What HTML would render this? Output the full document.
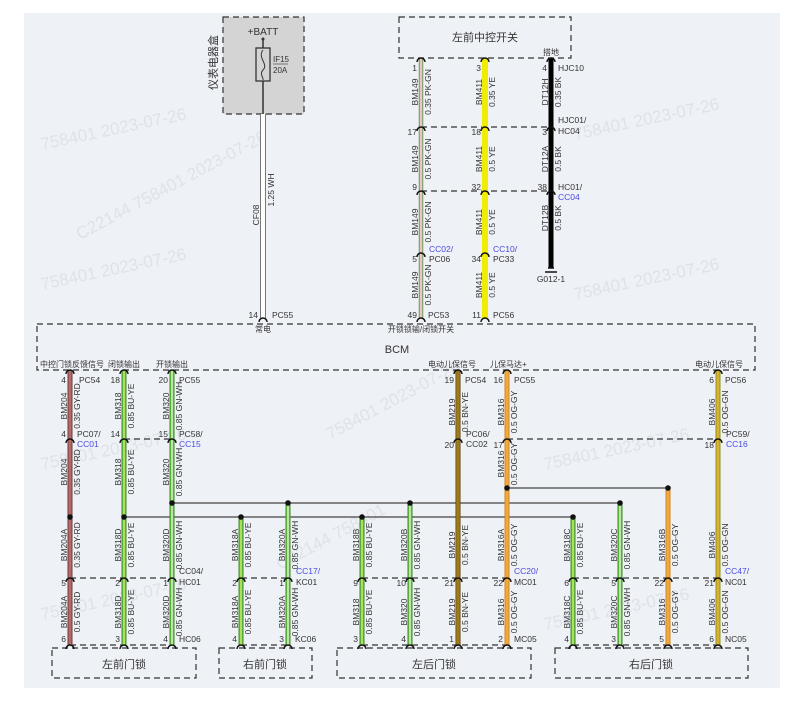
<!DOCTYPE html>
<html><head><meta charset="utf-8"><style>
html,body{margin:0;padding:0;background:#fff;width:800px;height:708px;overflow:hidden}
svg{display:block}
text{font-family:"Liberation Sans","Noto Sans CJK SC",sans-serif;fill:#333}
.l{font-size:8.5px}
.l .b, text.b{fill:#4a4ae0}
.w text{font-size:17px;fill:#dfe2e8}
.d{fill:none;stroke:#333;stroke-width:1.2;stroke-dasharray:6 4}
.cn{fill:none;stroke:#111;stroke-width:1.5}
</style></head><body>
<svg width="800" height="708" viewBox="0 0 800 708" xmlns="http://www.w3.org/2000/svg">
<rect x="24" y="13" width="756" height="675" fill="#eef1f6"/>
<!-- watermarks -->
<g class="w">
<text transform="translate(42,150) rotate(-12)">758401 2023-07-26</text>
<text transform="translate(80,240) rotate(-28)">C22144 758401 2023-07-26</text>
<text transform="translate(42,290) rotate(-12)">758401 2023-07-26</text>
<text transform="translate(42,470) rotate(-12)">758401 2023-07-26</text>
<text transform="translate(42,620) rotate(-12)">758401 2023-07-26</text>
<text transform="translate(330,440) rotate(-28)">758401 2023-07-26</text>
<text transform="translate(280,570) rotate(-28)">C22144 758401</text>
<text transform="translate(575,140) rotate(-12)">758401 2023-07-26</text>
<text transform="translate(575,300) rotate(-12)">758401 2023-07-26</text>
<text transform="translate(545,470) rotate(-12)">758401 2023-07-26</text>
<text transform="translate(545,630) rotate(-12)">758401 2023-07-26</text>
</g>

<!-- top fuse box -->
<rect x="223" y="17" width="81" height="97" fill="#d4d4d4"/>
<rect x="223" y="17" width="81" height="97" class="d"/>
<text x="263" y="35" font-size="10" text-anchor="middle">+BATT</text>
<line x1="263" y1="39" x2="263" y2="114" stroke="#333" stroke-width="1.5"/>
<circle cx="263" cy="39" r="1.5" fill="#333"/>
<rect x="256" y="48" width="14" height="33" fill="#d4d4d4" stroke="#333" stroke-width="1.3"/>
<path d="M263 50 C257 58,269 64,263 70 C259 74,264 78,263 80" fill="none" stroke="#333" stroke-width="1"/>
<text x="273" y="62" font-size="8">IF15</text>
<line x1="273" y1="64" x2="288" y2="64" stroke="#333" stroke-width="0.6"/>
<text x="273" y="73" font-size="8">20A</text>
<text transform="translate(217,90) rotate(-90)" font-size="11">仪表电器盒</text>

<!-- top switch box -->
<rect x="399" y="17" width="172" height="41" class="d"/>
<text x="485" y="41" font-size="11" text-anchor="middle">左前中控开关</text>
<text x="551" y="55" font-size="8" text-anchor="middle">搭地</text>

<!-- BCM box -->
<rect x="37" y="324" width="718" height="46" class="d"/>
<text x="397" y="353" font-size="11" text-anchor="middle">BCM</text>
<g font-size="8">
<text x="263" y="332" text-anchor="middle">常电</text>
<text x="421" y="332" text-anchor="middle">开锁锁输/闭锁开关</text>
<text x="40" y="367">中控门锁反馈信号</text>
<text x="108" y="367">闭锁输出</text>
<text x="156" y="367">开锁输出</text>
<text x="428" y="367">电动儿保信号</text>
<text x="490" y="367">儿保马达+</text>
<text x="695" y="367">电动儿保信号</text>
</g>

<!-- lock boxes -->
<rect x="52" y="648" width="144" height="30" class="d"/>
<text x="124" y="668" font-size="11" text-anchor="middle">左前门锁</text>
<rect x="219" y="648" width="93" height="30" class="d"/>
<text x="265" y="668" font-size="11" text-anchor="middle">右前门锁</text>
<rect x="337" y="648" width="194" height="30" class="d"/>
<text x="434" y="668" font-size="11" text-anchor="middle">左后门锁</text>
<rect x="555" y="648" width="193" height="30" class="d"/>
<text x="651" y="668" font-size="11" text-anchor="middle">右后门锁</text>

<!-- dashed connector lines -->
<line x1="421" y1="127" x2="551" y2="127" class="d"/>
<line x1="421" y1="191" x2="551" y2="191" class="d"/>
<line x1="124" y1="439" x2="172" y2="439" class="d"/>
<line x1="507" y1="439" x2="718" y2="439" class="d"/>
<line x1="70" y1="578" x2="172" y2="578" class="d"/>
<line x1="241" y1="578" x2="288" y2="578" class="d"/>
<line x1="362" y1="578" x2="507" y2="578" class="d"/>
<line x1="573" y1="578" x2="718" y2="578" class="d"/>
<line x1="70" y1="645" x2="172" y2="645" class="d"/>
<line x1="241" y1="645" x2="288" y2="645" class="d"/>
<line x1="362" y1="645" x2="507" y2="645" class="d"/>
<line x1="573" y1="645" x2="718" y2="645" class="d"/>

<!-- splice lines -->
<g stroke="#444" stroke-width="1.2">
<line x1="172" y1="503" x2="620" y2="503"/>
<line x1="124" y1="517" x2="573" y2="517"/>
<line x1="507" y1="488" x2="668" y2="488"/>
</g>

<!-- wires -->
<line x1="263" y1="114" x2="263" y2="318" stroke="#777" stroke-width="6"/>
<line x1="263" y1="114" x2="263" y2="318" stroke="#fff" stroke-width="4"/>
<line x1="421" y1="58" x2="421" y2="318" stroke="#6a9a5a" stroke-width="4.5"/>
<line x1="421" y1="58" x2="421" y2="318" stroke="#ebc4c4" stroke-width="2.5"/>
<line x1="485" y1="58" x2="485" y2="318" stroke="#f2ec00" stroke-width="6"/>
<line x1="551" y1="58" x2="551" y2="268" stroke="#000" stroke-width="5"/>
<path d="M545 272 H557 M548 268 H554" stroke="#111" stroke-width="1.5"/>
<line x1="70" y1="370" x2="70" y2="645" stroke="#6e3a3a" stroke-width="5"/>
<line x1="70" y1="370" x2="70" y2="645" stroke="#b46a6a" stroke-width="3"/>
<g stroke="#3a8a2a" stroke-width="5">
<line x1="124" y1="370" x2="124" y2="645"/><line x1="172" y1="370" x2="172" y2="645"/>
<line x1="241" y1="517" x2="241" y2="645"/><line x1="288" y1="503" x2="288" y2="645"/>
<line x1="362" y1="517" x2="362" y2="645"/><line x1="410" y1="503" x2="410" y2="645"/>
<line x1="573" y1="517" x2="573" y2="645"/><line x1="620" y1="503" x2="620" y2="645"/>
</g>
<g stroke="#78cc4c" stroke-width="3">
<line x1="124" y1="370" x2="124" y2="645"/><line x1="172" y1="370" x2="172" y2="645"/>
<line x1="241" y1="517" x2="241" y2="645"/><line x1="288" y1="503" x2="288" y2="645"/>
<line x1="362" y1="517" x2="362" y2="645"/><line x1="410" y1="503" x2="410" y2="645"/>
<line x1="573" y1="517" x2="573" y2="645"/><line x1="620" y1="503" x2="620" y2="645"/>
</g>
<g stroke="#e6f06a" stroke-width="1">
<line x1="124" y1="370" x2="124" y2="645"/><line x1="241" y1="517" x2="241" y2="645"/>
<line x1="362" y1="517" x2="362" y2="645"/><line x1="573" y1="517" x2="573" y2="645"/>
</g>
<g stroke="#fff" stroke-width="1">
<line x1="172" y1="370" x2="172" y2="645"/><line x1="288" y1="503" x2="288" y2="645"/>
<line x1="410" y1="503" x2="410" y2="645"/><line x1="620" y1="503" x2="620" y2="645"/>
</g>
<line x1="458" y1="370" x2="458" y2="645" stroke="#5a4010" stroke-width="5"/>
<line x1="458" y1="370" x2="458" y2="645" stroke="#c09a20" stroke-width="3"/>
<line x1="458" y1="370" x2="458" y2="645" stroke="#6a4c10" stroke-width="0.8"/>
<line x1="507" y1="370" x2="507" y2="645" stroke="#d08820" stroke-width="5"/>
<line x1="507" y1="370" x2="507" y2="645" stroke="#f0a840" stroke-width="3"/>
<line x1="668" y1="488" x2="668" y2="645" stroke="#d08820" stroke-width="5"/>
<line x1="668" y1="488" x2="668" y2="645" stroke="#f0a840" stroke-width="3"/>
<line x1="718" y1="370" x2="718" y2="645" stroke="#8a9420" stroke-width="5"/>
<line x1="718" y1="370" x2="718" y2="645" stroke="#dcb030" stroke-width="3"/>

<g fill="#111">
<circle cx="172" cy="503" r="2.8"/><circle cx="288" cy="503" r="2.8"/><circle cx="410" cy="503" r="2.8"/><circle cx="620" cy="503" r="2.8"/>
<circle cx="70" cy="517" r="2.8"/><circle cx="124" cy="517" r="2.8"/><circle cx="241" cy="517" r="2.8"/><circle cx="362" cy="517" r="2.8"/><circle cx="573" cy="517" r="2.8"/>
<circle cx="507" cy="488" r="2.8"/><circle cx="668" cy="488" r="2.8"/>
</g>

<g class="cn">
<path d="M259 322 A4 4 0 0 1 267 322"/>
<path d="M417 62 A4 4 0 0 1 425 62"/><path d="M481 62 A4 4 0 0 1 489 62"/><path d="M547 62 A4 4 0 0 1 555 62"/>
<path d="M417 131 A4 4 0 0 1 425 131"/><path d="M481 131 A4 4 0 0 1 489 131"/><path d="M547 131 A4 4 0 0 1 555 131"/>
<path d="M417 195 A4 4 0 0 1 425 195"/><path d="M481 195 A4 4 0 0 1 489 195"/><path d="M547 195 A4 4 0 0 1 555 195"/>
<path d="M417 257 A4 4 0 0 1 425 257"/><path d="M481 257 A4 4 0 0 1 489 257"/>
<path d="M417 322 A4 4 0 0 1 425 322"/><path d="M481 322 A4 4 0 0 1 489 322"/>
<path d="M66 374 A4 4 0 0 1 74 374"/><path d="M120 374 A4 4 0 0 1 128 374"/><path d="M168 374 A4 4 0 0 1 176 374"/>
<path d="M454 374 A4 4 0 0 1 462 374"/><path d="M503 374 A4 4 0 0 1 511 374"/><path d="M714 374 A4 4 0 0 1 722 374"/>
<path d="M66 443 A4 4 0 0 1 74 443"/><path d="M120 443 A4 4 0 0 1 128 443"/><path d="M168 443 A4 4 0 0 1 176 443"/>
<path d="M454 443 A4 4 0 0 1 462 443"/><path d="M503 443 A4 4 0 0 1 511 443"/><path d="M714 443 A4 4 0 0 1 722 443"/>
<path d="M66 582 A4 4 0 0 1 74 582"/><path d="M120 582 A4 4 0 0 1 128 582"/><path d="M168 582 A4 4 0 0 1 176 582"/>
<path d="M237 582 A4 4 0 0 1 245 582"/><path d="M284 582 A4 4 0 0 1 292 582"/>
<path d="M358 582 A4 4 0 0 1 366 582"/><path d="M406 582 A4 4 0 0 1 414 582"/><path d="M454 582 A4 4 0 0 1 462 582"/><path d="M503 582 A4 4 0 0 1 511 582"/>
<path d="M569 582 A4 4 0 0 1 577 582"/><path d="M616 582 A4 4 0 0 1 624 582"/><path d="M664 582 A4 4 0 0 1 672 582"/><path d="M714 582 A4 4 0 0 1 722 582"/>
<path d="M66 649 A4 4 0 0 1 74 649"/><path d="M120 649 A4 4 0 0 1 128 649"/><path d="M168 649 A4 4 0 0 1 176 649"/>
<path d="M237 649 A4 4 0 0 1 245 649"/><path d="M284 649 A4 4 0 0 1 292 649"/>
<path d="M358 649 A4 4 0 0 1 366 649"/><path d="M406 649 A4 4 0 0 1 414 649"/><path d="M454 649 A4 4 0 0 1 462 649"/><path d="M503 649 A4 4 0 0 1 511 649"/>
<path d="M569 649 A4 4 0 0 1 577 649"/><path d="M616 649 A4 4 0 0 1 624 649"/><path d="M664 649 A4 4 0 0 1 672 649"/><path d="M714 649 A4 4 0 0 1 722 649"/>
</g>

<g class="l">
<text x="258" y="318" text-anchor="end">14</text><text x="272" y="318">PC55</text>
<text x="417" y="71" text-anchor="end">1</text><text x="481" y="71" text-anchor="end">3</text><text x="547" y="71" text-anchor="end">4</text><text x="558" y="71">HJC10</text>
<text x="417" y="135" text-anchor="end">17</text><text x="481" y="135" text-anchor="end">18</text><text x="547" y="135" text-anchor="end">3</text>
<text x="558" y="123">HJC01/</text><text x="558" y="134">HC04</text>
<text x="417" y="190" text-anchor="end">9</text><text x="481" y="190" text-anchor="end">32</text><text x="547" y="190" text-anchor="end">38</text>
<text x="558" y="190">HC01/</text><text x="558" y="200" class="b">CC04</text>
<text x="417" y="262" text-anchor="end">5</text><text x="481" y="262" text-anchor="end">34</text>
<text x="429" y="252" class="b">CC02/</text><text x="429" y="262">PC06</text>
<text x="493" y="252" class="b">CC10/</text><text x="493" y="262">PC33</text>
<text x="551" y="282" text-anchor="middle">G012-1</text>
<text x="417" y="318" text-anchor="end">49</text><text x="428" y="318">PC53</text>
<text x="481" y="318" text-anchor="end">11</text><text x="493" y="318">PC56</text>

<text x="66" y="383" text-anchor="end">4</text><text x="79" y="383">PC54</text>
<text x="120" y="383" text-anchor="end">18</text>
<text x="168" y="383" text-anchor="end">20</text><text x="179" y="383">PC55</text>
<text x="454" y="383" text-anchor="end">19</text><text x="465" y="383">PC54</text>
<text x="503" y="383" text-anchor="end">16</text><text x="514" y="383">PC55</text>
<text x="714" y="383" text-anchor="end">6</text><text x="725" y="383">PC56</text>

<text x="66" y="437" text-anchor="end">4</text><text x="77" y="437">PC07/</text><text x="77" y="447" class="b">CC01</text>
<text x="120" y="437" text-anchor="end">14</text>
<text x="168" y="437" text-anchor="end">15</text><text x="179" y="437">PC58/</text><text x="179" y="447" class="b">CC15</text>
<text x="454" y="448" text-anchor="end">20</text><text x="466" y="437">PC06/</text><text x="466" y="447">CC02</text>
<text x="503" y="448" text-anchor="end">17</text>
<text x="714" y="448" text-anchor="end">18</text><text x="726" y="437">PC59/</text><text x="726" y="447" class="b">CC16</text>

<text x="66" y="586" text-anchor="end">5</text><text x="120" y="586" text-anchor="end">2</text><text x="168" y="586" text-anchor="end">1</text>
<text x="179" y="574">CC04/</text><text x="179" y="585">HC01</text>
<text x="237" y="586" text-anchor="end">2</text><text x="284" y="586" text-anchor="end">1</text>
<text x="296" y="574" class="b">CC17/</text><text x="296" y="585">KC01</text>
<text x="358" y="586" text-anchor="end">9</text><text x="406" y="586" text-anchor="end">10</text><text x="454" y="586" text-anchor="end">21</text><text x="503" y="586" text-anchor="end">22</text>
<text x="514" y="574" class="b">CC20/</text><text x="514" y="585">MC01</text>
<text x="569" y="586" text-anchor="end">6</text><text x="616" y="586" text-anchor="end">5</text><text x="664" y="586" text-anchor="end">22</text><text x="714" y="586" text-anchor="end">21</text>
<text x="725" y="574" class="b">CC47/</text><text x="725" y="585">NC01</text>

<text x="66" y="642" text-anchor="end">6</text><text x="120" y="642" text-anchor="end">3</text><text x="168" y="642" text-anchor="end">4</text><text x="179" y="642">HC06</text>
<text x="237" y="642" text-anchor="end">4</text><text x="284" y="642" text-anchor="end">3</text><text x="295" y="642">KC06</text>
<text x="358" y="642" text-anchor="end">3</text><text x="406" y="642" text-anchor="end">4</text><text x="454" y="642" text-anchor="end">1</text><text x="503" y="642" text-anchor="end">2</text><text x="514" y="642">MC05</text>
<text x="569" y="642" text-anchor="end">4</text><text x="616" y="642" text-anchor="end">3</text><text x="664" y="642" text-anchor="end">5</text><text x="714" y="642" text-anchor="end">6</text><text x="725" y="642">NC05</text>
</g>

<g class="l" text-anchor="middle">
<text transform="translate(259,215) rotate(-90)">CF08</text><text transform="translate(274,190) rotate(-90)">1.25 WH</text>

<text transform="translate(418,92) rotate(-90)">BM149</text><text transform="translate(431,92) rotate(-90)">0.35 PK-GN</text>
<text transform="translate(482,92) rotate(-90)">BM411</text><text transform="translate(495,92) rotate(-90)">0.35 YE</text>
<text transform="translate(548,92) rotate(-90)">DT12H</text><text transform="translate(561,92) rotate(-90)">0.35 BK</text>
<text transform="translate(418,159) rotate(-90)">BM149</text><text transform="translate(431,159) rotate(-90)">0.5 PK-GN</text>
<text transform="translate(482,159) rotate(-90)">BM411</text><text transform="translate(495,159) rotate(-90)">0.5 YE</text>
<text transform="translate(548,159) rotate(-90)">DT12A</text><text transform="translate(561,159) rotate(-90)">0.5 BK</text>
<text transform="translate(418,222) rotate(-90)">BM149</text><text transform="translate(431,222) rotate(-90)">0.5 PK-GN</text>
<text transform="translate(482,222) rotate(-90)">BM411</text><text transform="translate(495,222) rotate(-90)">0.5 YE</text>
<text transform="translate(548,218) rotate(-90)">DT12B</text><text transform="translate(561,218) rotate(-90)">0.5 BK</text>
<text transform="translate(418,285) rotate(-90)">BM149</text><text transform="translate(431,285) rotate(-90)">0.5 PK-GN</text>
<text transform="translate(482,285) rotate(-90)">BM411</text><text transform="translate(495,285) rotate(-90)">0.5 YE</text>

<text transform="translate(67,406) rotate(-90)">BM204</text><text transform="translate(80,406) rotate(-90)">0.35 GY-RD</text>
<text transform="translate(121,406) rotate(-90)">BM318</text><text transform="translate(134,406) rotate(-90)">0.85 BU-YE</text>
<text transform="translate(169,406) rotate(-90)">BM320</text><text transform="translate(182,406) rotate(-90)">0.85 GN-WH</text>
<text transform="translate(455,412) rotate(-90)">BM219</text><text transform="translate(468,412) rotate(-90)">0.5 BN-YE</text>
<text transform="translate(504,412) rotate(-90)">BM316</text><text transform="translate(517,412) rotate(-90)">0.5 OG-GY</text>
<text transform="translate(715,412) rotate(-90)">BM406</text><text transform="translate(728,412) rotate(-90)">0.5 OG-GN</text>

<text transform="translate(67,472) rotate(-90)">BM204</text><text transform="translate(80,472) rotate(-90)">0.35 GY-RD</text>
<text transform="translate(121,472) rotate(-90)">BM318</text><text transform="translate(134,472) rotate(-90)">0.85 BU-YE</text>
<text transform="translate(169,472) rotate(-90)">BM320</text><text transform="translate(182,472) rotate(-90)">0.85 GN-WH</text>
<text transform="translate(504,464) rotate(-90)">BM316</text><text transform="translate(517,464) rotate(-90)">0.5 OG-GY</text>

<text transform="translate(67,545) rotate(-90)">BM204A</text><text transform="translate(80,545) rotate(-90)">0.35 GY-RD</text>
<text transform="translate(121,545) rotate(-90)">BM318D</text><text transform="translate(134,545) rotate(-90)">0.85 BU-YE</text>
<text transform="translate(169,545) rotate(-90)">BM320D</text><text transform="translate(182,545) rotate(-90)">0.85 GN-WH</text>
<text transform="translate(238,545) rotate(-90)">BM318A</text><text transform="translate(251,545) rotate(-90)">0.85 BU-YE</text>
<text transform="translate(285,545) rotate(-90)">BM320A</text><text transform="translate(298,545) rotate(-90)">0.85 GN-WH</text>
<text transform="translate(359,545) rotate(-90)">BM318B</text><text transform="translate(372,545) rotate(-90)">0.85 BU-YE</text>
<text transform="translate(407,545) rotate(-90)">BM320B</text><text transform="translate(420,545) rotate(-90)">0.85 GN-WH</text>
<text transform="translate(455,545) rotate(-90)">BM219</text><text transform="translate(468,545) rotate(-90)">0.5 BN-YE</text>
<text transform="translate(504,545) rotate(-90)">BM316A</text><text transform="translate(517,545) rotate(-90)">0.5 OG-GY</text>
<text transform="translate(570,545) rotate(-90)">BM318C</text><text transform="translate(583,545) rotate(-90)">0.85 BU-YE</text>
<text transform="translate(617,545) rotate(-90)">BM320C</text><text transform="translate(630,545) rotate(-90)">0.85 GN-WH</text>
<text transform="translate(665,545) rotate(-90)">BM316B</text><text transform="translate(678,545) rotate(-90)">0.5 OG-GY</text>
<text transform="translate(715,545) rotate(-90)">BM406</text><text transform="translate(728,545) rotate(-90)">0.5 OG-GN</text>

<text transform="translate(67,612) rotate(-90)">BM204A</text><text transform="translate(80,612) rotate(-90)">0.5 GY-RD</text>
<text transform="translate(121,612) rotate(-90)">BM318D</text><text transform="translate(134,612) rotate(-90)">0.85 BU-YE</text>
<text transform="translate(169,612) rotate(-90)">BM320D</text><text transform="translate(182,612) rotate(-90)">0.85 GN-WH</text>
<text transform="translate(238,612) rotate(-90)">BM318A</text><text transform="translate(251,612) rotate(-90)">0.85 BU-YE</text>
<text transform="translate(285,612) rotate(-90)">BM320A</text><text transform="translate(298,612) rotate(-90)">0.85 GN-WH</text>
<text transform="translate(359,612) rotate(-90)">BM318</text><text transform="translate(372,612) rotate(-90)">0.85 BU-YE</text>
<text transform="translate(407,612) rotate(-90)">BM320</text><text transform="translate(420,612) rotate(-90)">0.85 GN-WH</text>
<text transform="translate(455,612) rotate(-90)">BM219</text><text transform="translate(468,612) rotate(-90)">0.5 BN-YE</text>
<text transform="translate(504,612) rotate(-90)">BM316</text><text transform="translate(517,612) rotate(-90)">0.5 OG-GY</text>
<text transform="translate(570,612) rotate(-90)">BM318C</text><text transform="translate(583,612) rotate(-90)">0.85 BU-YE</text>
<text transform="translate(617,612) rotate(-90)">BM320C</text><text transform="translate(630,612) rotate(-90)">0.85 GN-WH</text>
<text transform="translate(665,612) rotate(-90)">BM316</text><text transform="translate(678,612) rotate(-90)">0.5 OG-GY</text>
<text transform="translate(715,612) rotate(-90)">BM406</text><text transform="translate(728,612) rotate(-90)">0.5 OG-GN</text>
</g>
</svg>
</body></html>
